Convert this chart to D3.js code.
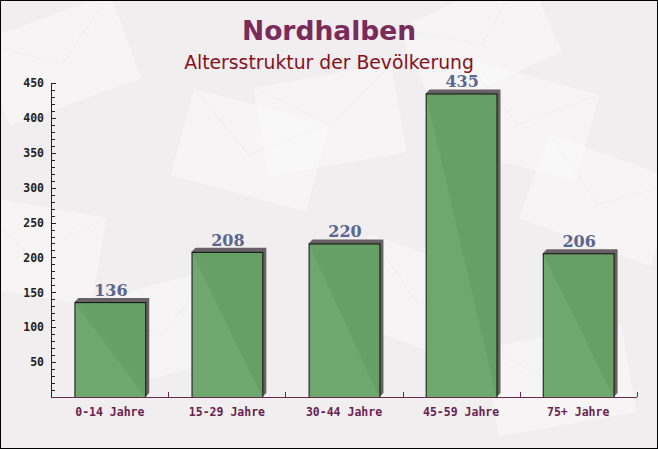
<!DOCTYPE html>
<html><head><meta charset="utf-8">
<script src="https://cdn.jsdelivr.net/npm/d3@7"></script>
<style>html,body{margin:0;padding:0;background:#fff;}svg{display:block;}</style>
</head><body>
<svg id="c" width="658" height="449"></svg>
<script>
const categories = ["0-14 Jahre","15-29 Jahre","30-44 Jahre","45-59 Jahre","75+ Jahre"];
const values = [136, 208, 220, 435, 206];
const yTicks = [50,100,150,200,250,300,350,400,450];
const title = "Nordhalben";
const subtitle = "Altersstruktur der Bevölkerung";

const W = 658, H = 449;
const svg = d3.select("#c");
const m = {left: 51, right: 21, top: 83, bottom: 51};

// background
svg.append("rect").attr("x",0).attr("y",0).attr("width",W).attr("height",H).attr("fill","#f1eef0");
const env = [[60,60,-20],[250,150,15],[480,40,-25],[600,200,20],[160,330,-15],[420,300,20],[560,380,-10],[330,120,-10],[30,250,10],[520,120,15]];
const bg = svg.append("g");
env.forEach(([x,y,r])=>{
  const g = bg.append("g").attr("transform",`translate(${x},${y}) rotate(${r})`);
  g.append("rect").attr("x",-70).attr("y",-45).attr("width",140).attr("height",90).attr("fill","#ffffff").attr("opacity",0.35);
  g.append("path").attr("d","M-70,-45 L0,5 L70,-45").attr("fill","none").attr("stroke","#ebe5e8").attr("opacity",0.4);
});

const x = d3.scaleBand().domain(categories).range([m.left, W - m.right]).paddingInner(0.395).paddingOuter(0.2);
const y = d3.scaleLinear().domain([0,450]).range([H - m.bottom - 1, m.top]);

// shadows and bars
const depth = 4;
const bars = svg.append("g");
categories.forEach((c,i)=>{
  const x0 = x(c), bw = x.bandwidth(), y0 = y(values[i]), yb = y(0);
  bars.append("path")
    .attr("d",`M${x0},${y0} L${x0+depth},${y0-depth} L${x0+bw+depth},${y0-depth} L${x0+bw+depth},${yb-depth} L${x0+bw},${yb} Z`)
    .attr("fill","#676064");
  bars.append("rect").attr("x",x0+0.5).attr("y",y0+0.5).attr("width",bw).attr("height",yb-y0)
    .attr("fill","#66a366").attr("fill-opacity",0.95).attr("stroke","#111").attr("stroke-width",1);
  bars.append("text").attr("x",x0+bw/2+1).attr("y",y0-6).attr("text-anchor","middle")
    .attr("font-family","'DejaVu Serif', serif").attr("font-weight","bold").attr("font-size","16px")
    .attr("fill","#5a6590").text(values[i]);
});

// y axis
const yAxis = d3.axisLeft(y).tickValues(yTicks).tickSize(0).tickFormat(d3.format("d"));
const ya = svg.append("g").attr("transform",`translate(${m.left},0)`).call(yAxis);
ya.select(".domain").remove();
ya.selectAll("text").attr("x",-7).attr("font-family","'DejaVu Sans Mono', monospace").attr("font-weight","bold")
  .attr("font-size","11.5px").attr("fill","#222");
const minor = d3.range(10,451,10);
svg.append("g").selectAll("line").data(minor).join("line")
  .attr("x1",m.left).attr("x2",d=>d%50===0?m.left+5:m.left+4)
  .attr("y1",d=>Math.round(y(d))+0.5).attr("y2",d=>Math.round(y(d))+0.5)
  .attr("stroke","#222").attr("stroke-width",1);
svg.append("line").attr("x1",m.left+0.5).attr("x2",m.left+0.5).attr("y1",y(450)).attr("y2",y(0)+1).attr("stroke","#222");

// x axis
const xa = svg.append("g").attr("transform",`translate(0,${Math.round(y(0))+0.5})`)
  .call(d3.axisBottom(x).tickSize(0).tickPadding(10));
xa.select(".domain").remove();
xa.selectAll("text").attr("font-family","'DejaVu Sans Mono', monospace").attr("font-weight","bold")
  .attr("font-size","11.5px").attr("fill","#6a1f4f");
svg.append("line").attr("x1",m.left).attr("x2",W-m.right).attr("y1",Math.round(y(0))+0.5).attr("y2",Math.round(y(0))+0.5).attr("stroke","#6a2a4f");
const bounds = d3.range(1,categories.length+1).map(i=>m.left + (W-m.right-m.left)*i/categories.length);
svg.append("g").selectAll("line").data(bounds).join("line")
  .attr("x1",d=>Math.round(d)+0.5).attr("x2",d=>Math.round(d)+0.5)
  .attr("y1",Math.round(y(0))).attr("y2",Math.round(y(0))-5).attr("stroke","#6a2a4f");

// titles
svg.append("text").attr("x",329).attr("y",40).attr("text-anchor","middle")
  .attr("font-family","'DejaVu Sans', Verdana, sans-serif").attr("font-weight","bold").attr("font-size","26.5px")
  .attr("fill","#7b2a5a").text(title);
svg.append("text").attr("x",329).attr("y",69).attr("text-anchor","middle")
  .attr("font-family","'DejaVu Sans', Verdana, sans-serif").attr("font-size","18.8px")
  .attr("fill","#8b0f1a").text(subtitle);

// border
svg.append("rect").attr("x",0.5).attr("y",0.5).attr("width",W-1).attr("height",H-1).attr("fill","none").attr("stroke","#000");
</script>
</body></html>
